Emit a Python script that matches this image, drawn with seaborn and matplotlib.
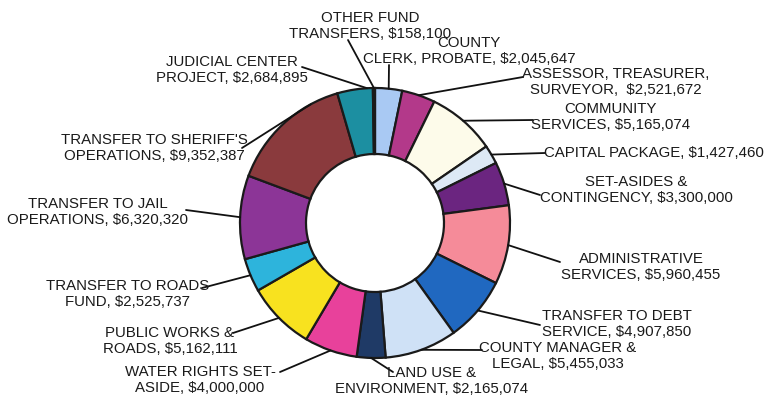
import numpy as np
import matplotlib
matplotlib.use("Agg")
import matplotlib.pyplot as plt
import seaborn as sns

# ---- data (clockwise from 12 o'clock) ----
categories = [
    "COUNTY\nCLERK, PROBATE, $2,045,647",
    "ASSESSOR, TREASURER,\nSURVEYOR,  $2,521,672",
    "COMMUNITY\nSERVICES, $5,165,074",
    "CAPITAL PACKAGE, $1,427,460",
    "SET-ASIDES &\nCONTINGENCY, $3,300,000",
    "ADMINISTRATIVE\nSERVICES, $5,960,455",
    "TRANSFER TO DEBT\nSERVICE, $4,907,850",
    "COUNTY MANAGER &\nLEGAL, $5,455,033",
    "LAND USE &\nENVIRONMENT, $2,165,074",
    "WATER RIGHTS SET-\nASIDE, $4,000,000",
    "PUBLIC WORKS &\nROADS, $5,162,111",
    "TRANSFER TO ROADS\nFUND, $2,525,737",
    "TRANSFER TO JAIL\nOPERATIONS, $6,320,320",
    "TRANSFER TO SHERIFF'S\nOPERATIONS, $9,352,387",
    "JUDICIAL CENTER\nPROJECT, $2,684,895",
    "OTHER FUND\nTRANSFERS, $158,100",
]
values = [2045647, 2521672, 5165074, 1427460, 3300000, 5960455, 4907850,
          5455033, 2165074, 4000000, 5162111, 2525737, 6320320, 9352387,
          2684895, 158100]
colors = ["#a9c9f3", "#b3398a", "#fdfbea", "#dde9f5", "#6b2580", "#f58b99",
          "#2068c0", "#cfe1f6", "#1f3a66", "#e8419b", "#f8e21f", "#2db4dc",
          "#8c3597", "#8a3a3d", "#1c8fa1", "#4a2418"]

# ---- layout (image pixel coords, y from top) ----
W, H = 765, 398
CX, CY, R, RIN = 375, 223, 135, 69
label_pos = [(469, 51), (616, 82), (611, 117), (654, 153), (636, 190),
             (641, 267), (617, 324), (558, 356), (432, 381), (200, 380),
             (170, 341), (128, 294), (98, 212), (154, 148), (232, 70),
             (370, 26)]
line_start = [(389, 65), (523, 77), (533, 120), (545, 153), (540, 195),
              (560, 262), (540, 325), (482, 350), (393, 372), (280, 372),
              (233, 333), (202, 288), (186, 210), (242, 148), (302, 67),
              (348, 40)]
# where along each wedge's arc the leader line touches (0..1, clockwise)
anchor_frac = [0.5] * 13 + [0.23, 0.16, 0.5]

sns.set_theme(style="white")
plt.rcParams["font.family"] = ["Liberation Sans", "DejaVu Sans"]

fig = plt.figure(figsize=(W / 100, H / 100), dpi=100)
ax = fig.add_axes([0, 0, 1, 1])

wedges, _ = ax.pie(values, colors=colors, startangle=90, counterclock=False,
                   radius=R, center=(CX, H - CY),
                   wedgeprops=dict(width=R - RIN, edgecolor="#1a1a1a",
                                   linewidth=1.6))
ax.set_xlim(0, W)
ax.set_ylim(0, H)
ax.set_aspect("equal")
ax.axis("off")

for w, lab, (tx, ty), (lx, ly), f in zip(wedges, categories, label_pos,
                                         line_start, anchor_frac):
    ang = np.deg2rad(w.theta1 + f * (w.theta2 - w.theta1))
    px = CX + R * np.cos(ang)
    py = (H - CY) + R * np.sin(ang)
    ax.annotate("", xy=(px, py), xytext=(lx, H - ly),
                arrowprops=dict(arrowstyle="-", color="#111111", lw=1.3,
                                shrinkA=0, shrinkB=0))
    ax.text(tx, H - ty, lab, ha="center", va="center", fontsize=10.8,
            color="#1a1a1a", linespacing=1.1)

fig.savefig("out.png", dpi=100, facecolor="white")
